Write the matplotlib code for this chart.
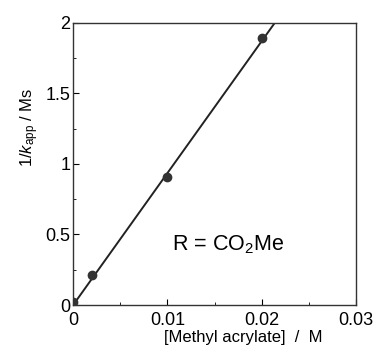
#!/usr/bin/env python3
"""Plot 1/k_app against methyl acrylate concentration."""

import numpy as np
import matplotlib.pyplot as plt
from matplotlib.ticker import MultipleLocator

plt.rcParams['font.family'] = ['Liberation Sans', 'DejaVu Sans']
plt.rcParams['mathtext.fontset'] = 'custom'
plt.rcParams['mathtext.rm'] = 'Liberation Sans'
plt.rcParams['mathtext.it'] = 'Liberation Sans:italic'

conc = [0.0, 0.002, 0.01, 0.02]
inv_k = [0.02, 0.21, 0.91, 1.89]
fit_slope = 93.5
fit_x = [0.0, 0.0214]

fig = plt.figure(figsize=(3.79, 3.47), dpi=100)
ax = fig.add_axes([0.193, 0.121, 0.746, 0.813])

ax.plot(fit_x, fit_slope * np.array(fit_x), color='#222222', lw=1.4)
ax.plot(conc, inv_k, 'o', color='#333333', markersize=6)

ax.set_xlim(0, 0.03)
ax.set_ylim(0, 2)
ax.xaxis.set_major_locator(MultipleLocator(0.01))
ax.xaxis.set_minor_locator(MultipleLocator(0.005))
ax.yaxis.set_major_locator(MultipleLocator(0.5))
ax.yaxis.set_minor_locator(MultipleLocator(0.25))
ax.xaxis.set_major_formatter(plt.FuncFormatter(lambda v, p: f'{v:g}'))
ax.yaxis.set_major_formatter(plt.FuncFormatter(lambda v, p: f'{v:g}'))
ax.tick_params(direction='in', which='major', length=4, labelsize=13, pad=2)
ax.tick_params(axis='x', which='major', pad=5)
ax.tick_params(direction='in', which='minor', length=2)
for s in ax.spines.values():
    s.set_linewidth(1.0)
    s.set_color('#333333')

ax.set_xlabel('[Methyl acrylate]  /  M', fontsize=12, labelpad=0)
ax.xaxis.set_label_coords(0.6, -0.088)
ax.set_ylabel(r'1/$\mathit{k}_\mathrm{app}$ / Ms', fontsize=12)
ax.yaxis.set_label_coords(-0.115, 0.63)
ax.text(0.0105, 0.43, r'R = CO$_2$Me', fontsize=15.5, va='center')

fig.savefig('out.png', dpi=100)
